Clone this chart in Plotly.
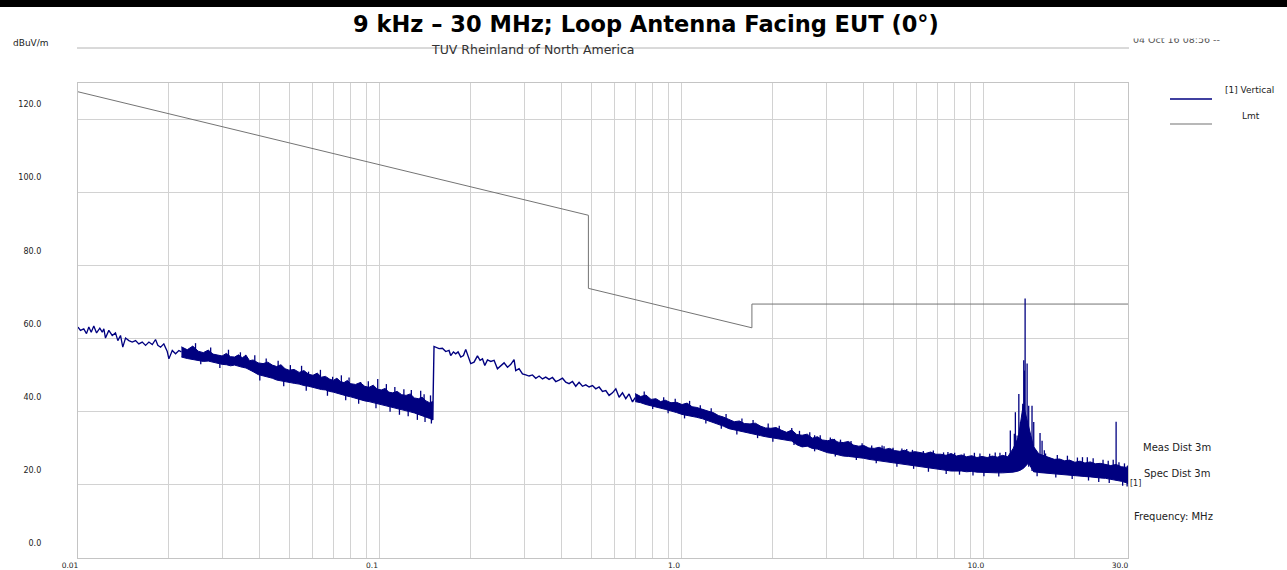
import plotly.graph_objects as go

# ---------------- data ----------------
# Limit line "Lmt" (MHz, dBuV/m)
LMT_F = [0.01, 0.49, 0.49, 1.705, 1.705, 30.0]
LMT_V = [127.6, 93.8, 73.8, 63.0, 69.5, 69.5]

# Measured trace "[1] Vertical" – thin start 10 kHz .. 22 kHz
SEG1_F = [0.01000, 0.01019, 0.01045, 0.01067, 0.01086, 0.01106, 0.01128, 0.01152,
          0.01181, 0.01203, 0.01218, 0.01233, 0.01265, 0.01298, 0.01331, 0.01355,
          0.01383, 0.01407, 0.01437, 0.01474, 0.01512, 0.01551, 0.01590, 0.01632,
          0.01674, 0.01717, 0.01762, 0.01806, 0.01838, 0.01877, 0.01924, 0.01975,
          0.02000, 0.02052, 0.02104, 0.02158]
SEG1_V = [63.2, 62.3, 62.7, 61.4, 63.2, 61.8, 63.5, 61.6, 62.9, 61.8, 62.7, 60.2,
          62.3, 60.9, 61.6, 59.5, 60.9, 57.7, 60.2, 59.5, 59.1, 59.5, 58.6, 59.1,
          58.2, 59.1, 58.4, 59.8, 58.2, 57.7, 58.6, 56.5, 54.5, 56.8, 55.9, 56.8]

# dense band 22 kHz .. 150 kHz (upper / lower envelope)
BAND1_F = [0.022, 0.023, 0.024, 0.025, 0.026, 0.027, 0.028, 0.029, 0.030, 0.031,
           0.032, 0.033, 0.034, 0.035, 0.036, 0.037, 0.038, 0.0395, 0.041, 0.0425,
           0.044, 0.0455, 0.047, 0.0485, 0.050, 0.052, 0.054, 0.056, 0.058, 0.060,
           0.062, 0.064, 0.066, 0.068, 0.070, 0.072, 0.074, 0.076, 0.078, 0.080,
           0.083, 0.086, 0.089, 0.092, 0.095, 0.098, 0.101, 0.104, 0.107, 0.110,
           0.114, 0.118, 0.122, 0.126, 0.130, 0.134, 0.138, 0.142, 0.146, 0.1495]
BAND1_HI = [57.8, 57.0, 58.0, 56.6, 56.2, 56.9, 55.8, 55.6, 55.3, 56.0,
            55.1, 55.0, 55.6, 54.8, 55.5, 54.0, 54.2, 53.4, 53.2, 53.6,
            52.8, 52.4, 52.9, 51.8, 51.4, 51.6, 50.8, 51.3, 50.3, 50.0,
            50.6, 49.5, 49.7, 49.0, 48.6, 49.2, 48.3, 48.0, 48.6, 47.7,
            47.5, 48.0, 47.0, 46.7, 47.3, 46.2, 46.0, 46.4, 45.4, 45.2,
            45.6, 44.7, 44.5, 44.9, 43.8, 43.6, 44.0, 43.0, 42.5, 42.8]
BAND1_LO = [55.0, 54.6, 54.3, 54.0, 53.8, 53.9, 53.5, 53.3, 53.0, 52.9,
            52.6, 52.8, 52.4, 52.2, 52.0, 51.5, 51.0, 50.2, 49.9, 49.5,
            49.2, 48.7, 48.4, 48.3, 48.1, 47.8, 47.6, 47.2, 47.0, 46.8,
            46.4, 46.1, 46.0, 45.6, 45.4, 45.1, 44.8, 44.6, 44.3, 44.1,
            43.7, 43.4, 43.0, 42.8, 42.5, 42.3, 42.1, 41.8, 41.5, 41.2,
            41.0, 40.6, 40.3, 40.0, 39.7, 39.3, 39.0, 38.6, 38.2, 37.8]

# thin trace 150 kHz .. 0.69 MHz
SEG2_F = [0.1510, 0.1569, 0.1610, 0.1651, 0.1693, 0.1715, 0.1751, 0.1782, 0.1814,
          0.1852, 0.1890, 0.1923, 0.1957, 0.1998, 0.2049, 0.2103, 0.2145, 0.2185,
          0.2224, 0.2270, 0.2328, 0.2387, 0.2449, 0.2512, 0.2576, 0.2644, 0.2712,
          0.2780, 0.2816, 0.2888, 0.2964, 0.3040, 0.3118, 0.3199, 0.3281, 0.3365,
          0.3453, 0.3540, 0.3631, 0.3726, 0.3821, 0.3918, 0.4021, 0.4123, 0.4229,
          0.4340, 0.4450, 0.4564, 0.4684, 0.4804, 0.4926, 0.5056, 0.5184, 0.5317,
          0.5456, 0.5595, 0.5738, 0.5888, 0.6039, 0.6193, 0.6355, 0.6516, 0.6683,
          0.6859]
SEG2_V = [57.9, 57.3, 57.4, 56.5, 56.8, 55.4, 56.4, 55.9, 56.4,
          55.0, 55.4, 57.1, 55.4, 53.2, 53.6, 55.3, 54.1, 54.5,
          52.7, 54.2, 53.8, 54.1, 51.8, 52.7, 53.4, 52.2, 53.0,
          54.3, 51.3, 51.8, 50.4, 50.1, 49.8, 50.1, 49.2, 49.8,
          49.0, 49.5, 48.9, 49.4, 48.3, 48.7, 49.2, 48.1, 47.7,
          48.3, 47.0, 48.1, 47.0, 47.4, 46.8, 47.2, 46.3, 46.8,
          45.6, 45.8, 44.5, 45.2, 46.3, 44.0, 45.2, 43.6, 44.9,
          42.7]

# dense band 0.7 MHz .. 30 MHz (upper / lower envelope)
BAND2_F = [0.70, 0.73, 0.76, 0.79, 0.82, 0.85, 0.88, 0.92, 0.96, 1.00,
           1.04, 1.08, 1.12, 1.17, 1.22, 1.27, 1.32, 1.37, 1.43, 1.49,
           1.55, 1.61, 1.68, 1.75, 1.82, 1.89, 1.97, 2.05, 2.13, 2.22,
           2.31, 2.40, 2.50, 2.60, 2.70, 2.81, 2.92, 3.04, 3.16, 3.29,
           3.42, 3.56, 3.70, 3.85, 4.00, 4.16, 4.33, 4.50, 4.68, 4.87,
           5.06, 5.26, 5.47, 5.69, 5.92, 6.16, 6.40, 6.66, 6.93, 7.20,
           7.49, 7.79, 8.10, 8.43, 8.76, 9.11, 9.48, 9.86, 10.25, 10.66,
           11.09, 11.53, 12.0, 12.5, 13.0, 13.5, 14.05, 14.6, 15.2, 15.8,
           16.4, 17.1, 17.8, 18.5, 19.2, 20.0, 20.8, 21.6, 22.5, 23.4,
           24.3, 25.3, 26.3, 27.4, 28.5, 29.6, 30.0]
BAND2_HI = [45.0, 44.2, 44.6, 43.4, 43.6, 42.8, 43.2, 42.5, 42.6, 42.0,
            42.4, 41.4, 41.2, 40.6, 40.2, 39.8, 39.0, 38.6, 38.0, 37.3,
            37.5, 36.8, 36.7, 36.9, 36.1, 35.6, 35.5, 35.7, 35.0, 34.4,
            35.0, 33.8, 33.6, 33.9, 32.8, 33.2, 32.3, 32.1, 32.5, 31.7,
            31.6, 31.9, 30.9, 30.6, 30.8, 30.1, 30.0, 30.3, 29.7, 30.0,
            29.4, 29.2, 29.5, 28.9, 29.1, 28.8, 28.6, 29.0, 28.4, 28.4,
            28.1, 28.6, 27.9, 28.2, 27.7, 28.0, 27.5, 27.8, 27.5, 27.9,
            27.6, 28.1, 27.7, 30.0, 33.0, 42.0, 36.0, 30.5, 28.5, 28.0,
            27.4, 27.0, 27.1, 26.6, 26.8, 26.2, 26.5, 26.0, 26.3, 25.8,
            25.9, 25.5, 25.3, 25.6, 25.0, 24.8, 25.3]
BAND2_LO = [42.8, 42.5, 42.0, 41.6, 41.3, 41.0, 40.7, 40.3, 39.8, 39.3,
            38.9, 38.7, 38.5, 38.1, 37.6, 37.2, 36.6, 36.1, 35.4, 34.9,
            34.6, 34.3, 34.0, 33.8, 33.5, 33.2, 32.8, 32.6, 32.4, 32.2,
            32.0, 31.0, 30.4, 30.6, 30.0, 29.8, 29.3, 28.8, 28.6, 28.3,
            27.9, 27.8, 27.6, 27.5, 27.3, 27.0, 26.7, 26.5, 26.3, 26.1,
            25.9, 25.7, 25.6, 25.5, 25.2, 25.0, 24.7, 24.5, 24.3, 24.2,
            24.0, 23.8, 23.7, 23.8, 23.6, 23.7, 23.5, 23.4, 23.4, 23.3,
            23.3, 23.3, 23.3, 23.5, 23.8, 24.5, 26.0, 23.6, 23.4, 23.3,
            23.2, 23.1, 23.0, 22.8, 22.7, 22.5, 22.4, 22.3, 22.2, 22.1,
            21.9, 21.8, 21.6, 21.3, 21.0, 20.6, 20.3]

# individual narrow spikes and dips (frequency, tip level, level at foot)
SPIKE_F = [0.0359, 0.0580, 0.0697, 0.0863, 0.0983, 0.1364,
           2.31, 2.75, 3.20, 4.67, 5.55, 7.60, 9.30, 10.9,
           12.23, 12.61, 12.71, 12.88, 13.05, 13.21, 13.45, 13.55, 13.62,
           13.69, 13.90, 14.07, 14.43, 14.62, 15.34, 15.58, 15.85, 22.0, 27.4,
           # small upward spikes, 22-150 kHz
           0.0245, 0.0275, 0.0315, 0.0345, 0.0385, 0.042, 0.046, 0.0505, 0.055,
           0.0635, 0.0745, 0.079, 0.0915, 0.105, 0.112, 0.120, 0.127, 0.140, 0.147,
           # small downward dips, 22-150 kHz
           0.0255, 0.0295, 0.040, 0.048, 0.057, 0.067, 0.077, 0.085, 0.097,
           0.108, 0.116, 0.124, 0.133, 0.141, 0.148,
           # small upward spikes, 0.7-30 MHz
           0.75, 0.87, 0.95, 1.06, 1.15, 1.25, 1.40, 1.58, 1.72, 1.93, 2.10,
           2.45, 2.65, 2.87, 3.10, 3.35, 3.63, 3.95, 4.25, 4.60, 5.00, 5.35,
           5.80, 6.30, 6.80, 7.35, 8.00, 8.60, 9.70, 10.45, 11.3, 11.8,
           16.0, 17.5, 18.9, 20.4, 21.2, 23.0, 24.8, 25.8, 26.8, 28.0, 29.2,
           # small downward dips, 0.7-30 MHz
           0.80, 0.90, 1.02, 1.20, 1.35, 1.52, 1.78, 2.00, 2.35, 2.75, 3.22,
           3.78, 4.40, 5.15, 5.85, 6.55, 7.50, 8.30, 9.20, 10.0, 11.2, 15.0,
           17.3, 19.6, 22.2, 24.0, 26.0, 28.8, 29.8]
SPIKE_TIP = [55.6, 51.0, 49.6, 48.2, 49.0, 45.8,
             35.6, 33.6, 32.6, 30.6, 29.8, 29.0, 28.8, 28.9,
             34.9, 34.0, 39.9, 33.5, 44.9, 37.2, 42.2, 54.1, 51.3,
             71.0, 53.2, 41.7, 41.7, 37.2, 34.2, 32.1, 29.5, 27.6, 37.3,
             58.8, 57.6, 57.0, 56.3, 55.5, 54.6, 54.0, 52.8, 52.6,
             51.5, 50.0, 49.4, 48.4, 47.6, 46.8, 46.2, 46.0, 44.8, 44.5,
             53.0, 52.0, 48.6, 47.0, 45.8, 44.4, 43.2, 42.2, 41.0,
             40.0, 39.2, 38.8, 37.8, 37.2, 36.8,
             45.6, 44.0, 43.6, 43.0, 41.8, 41.0, 39.4, 38.2, 37.8, 36.8, 36.2,
             34.8, 34.4, 33.6, 33.0, 32.4, 32.0, 31.4, 30.8, 30.8, 30.2, 30.0,
             29.6, 29.3, 29.4, 28.9, 28.8, 28.6, 28.6, 28.5, 28.8, 29.0,
             28.6, 28.2, 28.0, 27.5, 27.6, 27.3, 26.9, 26.6, 26.9, 26.2, 25.9,
             40.8, 39.6, 38.2, 36.8, 35.4, 33.8, 32.8, 31.8, 30.9, 29.2, 27.8,
             26.8, 25.9, 25.0, 24.4, 23.6, 23.0, 22.8, 22.6, 22.4, 22.3, 22.4,
             22.0, 21.6, 21.2, 20.8, 20.5, 19.8, 19.6]
SPIKE_FOOT = [52.3, 47.0, 45.5, 43.3, 42.3, 39.4,
              32.0, 30.2, 28.8, 26.6, 25.9, 24.1, 23.8, 23.5,
              23.6, 23.6, 23.7, 23.8, 23.8, 24.0, 24.5, 25.0, 25.0,
              25.5, 26.0, 25.0, 23.8, 23.6, 23.4, 23.3, 23.3, 22.3, 21.3,
              55.5, 54.5, 53.5, 53.0, 52.0, 50.5, 49.5, 49.0, 48.5,
              47.0, 45.5, 45.0, 43.5, 42.5, 42.0, 41.5, 41.0, 39.5, 39.0,
              54.5, 53.5, 50.5, 48.8, 47.6, 46.2, 45.0, 43.8, 42.6,
              41.8, 41.0, 40.4, 39.6, 38.8, 38.3,
              43.0, 41.0, 40.0, 39.0, 38.5, 37.5, 36.0, 35.0, 34.0, 33.5, 33.0,
              31.5, 31.0, 30.0, 29.5, 29.0, 28.5, 28.0, 27.5, 27.0, 26.8, 26.5,
              26.0, 25.5, 25.0, 24.8, 24.5, 24.4, 24.2, 24.0, 24.0, 24.0,
              23.5, 23.3, 23.2, 23.0, 22.8, 22.5, 22.2, 22.0, 21.8, 21.5, 21.0,
              42.0, 41.0, 39.5, 38.0, 37.0, 35.0, 34.0, 33.0, 32.0, 30.2, 29.0,
              28.0, 27.0, 26.3, 25.6, 25.0, 24.4, 24.2, 24.0, 23.8, 23.6, 23.5,
              23.2, 22.8, 22.4, 22.0, 21.7, 21.0, 20.6]

X_TICKS = [0.01, 0.1, 1.0, 10.0, 30.0]
X_TICK_TEXT = ["0.01", "0.1", "1.0", "10.0", "30.0"]
X_MINOR = [0.02, 0.03, 0.04, 0.05, 0.06, 0.07, 0.08, 0.09,
           0.2, 0.3, 0.4, 0.5, 0.6, 0.7, 0.8, 0.9,
           2, 3, 4, 5, 6, 7, 8, 9, 20]
Y_TICKS = [0, 20, 40, 60, 80, 100, 120]
Y_TICK_TEXT = ["0.0", "20.0", "40.0", "60.0", "80.0", "100.0", "120.0"]

# ---------------- layout geometry ----------------
W, H = 1287, 570
L, R, T, B = 78, 159, 83, 12
PW, PH = W - L - R, H - T - B


def px(xp):
    return (xp - L) / PW


def py(yp):
    return (H - B - yp) / PH


NAVY = "#000080"
GRID = "#d2d2d2"
FONT = "DejaVu Sans"

fig = go.Figure()

# limit line
fig.add_trace(go.Scatter(x=LMT_F, y=LMT_V, mode="lines",
                         line=dict(color="#747474", width=1), hoverinfo="skip"))

# measured trace pieces
fig.add_trace(go.Scatter(x=SEG1_F + [BAND1_F[0]],
                         y=SEG1_V + [(BAND1_HI[0] + BAND1_LO[0]) / 2],
                         mode="lines", line=dict(color=NAVY, width=1.3),
                         hoverinfo="skip"))
fig.add_trace(go.Scatter(x=BAND1_F + BAND1_F[::-1], y=BAND1_HI + BAND1_LO[::-1],
                         mode="lines", fill="toself", fillcolor=NAVY,
                         line=dict(color=NAVY, width=1), hoverinfo="skip"))
fig.add_trace(go.Scatter(x=[BAND1_F[-1]] + SEG2_F + [BAND2_F[0]],
                         y=[BAND1_LO[-1]] + SEG2_V + [(BAND2_HI[0] + BAND2_LO[0]) / 2],
                         mode="lines", line=dict(color=NAVY, width=1.4),
                         hoverinfo="skip"))
fig.add_trace(go.Scatter(x=BAND2_F + BAND2_F[::-1], y=BAND2_HI + BAND2_LO[::-1],
                         mode="lines", fill="toself", fillcolor=NAVY,
                         line=dict(color=NAVY, width=1), hoverinfo="skip"))
sx, sy = [], []
for f, tip, foot in zip(SPIKE_F, SPIKE_TIP, SPIKE_FOOT):
    sx += [f, f, None]
    sy += [foot, tip, None]
fig.add_trace(go.Scatter(x=sx, y=sy, mode="lines",
                         line=dict(color=NAVY, width=1.3), hoverinfo="skip"))

small = dict(family=FONT, size=7.5, color="#222222")

fig.update_layout(
    width=W, height=H,
    margin=dict(l=L, r=R, t=T, b=B),
    paper_bgcolor="white", plot_bgcolor="white",
    showlegend=False,
    title=dict(text="<b>9 kHz – 30 MHz; Loop Antenna Facing EUT (0°)</b>",
               x=646 / W, xanchor="center", xref="container",
               y=1 - 24 / H, yanchor="middle", yref="container",
               font=dict(family=FONT, size=22.5, color="black")),
    xaxis=dict(type="log", range=[-2, 1.4771213], tickvals=X_TICKS,
               ticktext=X_TICK_TEXT, ticks="", showgrid=True, gridcolor=GRID,
               gridwidth=1.3, minor=dict(tickvals=X_MINOR, showgrid=True,
                                         gridcolor=GRID, gridwidth=1.3),
               showline=True, mirror=True, linecolor="#c4c4c4", linewidth=1.3,
               zeroline=False, tickfont=small, ticklabelshift=-8,
               ticklabelstandoff=0, automargin=False),
    yaxis=dict(range=[0, 130], tickvals=Y_TICKS, ticktext=Y_TICK_TEXT, ticks="",
               showgrid=True, gridcolor=GRID, gridwidth=1.3, showline=True,
               mirror=True, linecolor="#c4c4c4", linewidth=1.3, zeroline=False,
               tickfont=dict(family=FONT, size=8, color="#222222"),
               ticklabelshift=-15, ticklabelstandoff=34, automargin=False),
)

shapes = [
    dict(type="rect", xref="paper", yref="paper", x0=px(-5), x1=px(W + 5),
         y0=py(7), y1=py(-2), fillcolor="black", line=dict(width=0)),
    dict(type="line", xref="paper", yref="paper", x0=px(77), x1=px(1129),
         y0=py(48), y1=py(48), line=dict(color="#b4b4b4", width=1)),
    dict(type="line", xref="paper", yref="paper", x0=px(1170), x1=px(1212),
         y0=py(99), y1=py(99), line=dict(color=NAVY, width=1.3)),
    dict(type="line", xref="paper", yref="paper", x0=px(1170), x1=px(1212),
         y0=py(124), y1=py(124), line=dict(color="#a0a0a0", width=1.3)),
]
fig.update_layout(shapes=shapes)


def note(text, xc, yc, size=8, color="#222222", anchor="center"):
    return dict(text=text, xref="paper", yref="paper", x=px(xc), y=py(yc),
                xanchor=anchor, yanchor="middle", showarrow=False,
                font=dict(family=FONT, size=size, color=color))


annos = [
    note("dBuV/m", 31, 43, size=9),
    note("TUV Rheinland of North America", 532, 50, size=12.5, color="#333333"),
    note("04 Oct 16 08:56 --", 1131, 39, size=9.5, color="#555555", anchor="left"),
    dict(text=" ", xref="paper", yref="paper", x=px(1185), y=py(32),
         xanchor="center", yanchor="middle", showarrow=False, width=140,
         height=11, bgcolor="white", borderpad=0),
    note("[1] Vertical", 1249, 90, size=9),
    note("Lmt", 1251, 116, size=9),
    note("Meas Dist 3m", 1177, 447, size=10),
    note("Spec Dist 3m", 1177, 473, size=10),
    note("[1]", 1135, 483, size=8),
    note("Frequency: MHz", 1173, 516, size=10),
]
fig.update_layout(annotations=annos)

fig.write_html("out.html")
